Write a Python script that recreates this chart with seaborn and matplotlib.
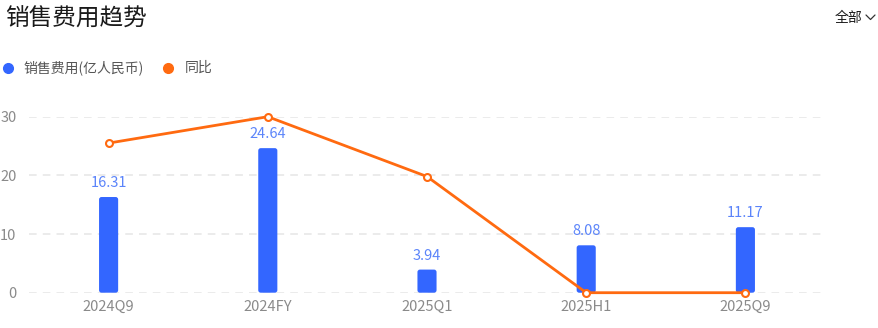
import matplotlib
matplotlib.use("Agg")
import matplotlib.pyplot as plt
from matplotlib.lines import Line2D
from matplotlib.patches import FancyBboxPatch
import seaborn as sns
import pandas as pd
import numpy as np

categories = ["2024Q9", "2024FY", "2025Q1", "2025H1", "2025Q9"]
sales_expense = [16.31, 24.64, 3.94, 8.08, 11.17]
yoy = [25.5, 30.0, 19.8, 0.0, 0.0]
y_ticks = [0, 10, 20, 30]
title = "销售费用趋势"
legend_labels = ["销售费用(亿人民币)", "同比"]

BLUE = "#3366FF"
LABEL_BLUE = "#5B84FA"
ORANGE = "#FF6A10"
GRAY = "#8A8A8A"

sns.set_theme(style="white")
plt.rcParams["font.family"] = ["Noto Sans CJK SC", "DejaVu Sans"]

W, H = 879, 328
fig = plt.figure(figsize=(W / 100, H / 100), dpi=100)
fig.patch.set_facecolor("white")

left, right, top, bottom = 29, 825, 116.7, 292.7
ax = fig.add_axes([left / W, 1 - bottom / H, (right - left) / W, (bottom - top) / H])

df = pd.DataFrame({"cat": categories, "val": sales_expense, "yoy": yoy})

sns.barplot(data=df, x="cat", y="val", color=BLUE, width=0.12, ax=ax,
            saturation=1, zorder=2)

# rounded corners for bars
xpx = (right - left) / 5.0
ypx = (bottom - top) / 30.0
r_px = 2.5
for p in list(ax.patches):
    x0, y0 = p.get_x(), p.get_y()
    w, h = p.get_width(), p.get_height()
    rs = r_px / xpx
    fb = FancyBboxPatch((x0, y0), w, h,
                        boxstyle=f"round,pad=0,rounding_size={rs}",
                        mutation_aspect=(r_px / ypx) / rs,
                        facecolor=BLUE, edgecolor="none", zorder=2)
    p.remove()
    ax.add_patch(fb)

for i, v in enumerate(sales_expense):
    ax.annotate(f"{v:.2f}", (i, v), xytext=(0, 5), textcoords="offset points",
                ha="center", va="bottom", color=LABEL_BLUE, fontsize=10.5,
                clip_on=False, zorder=5)

sns.lineplot(data=df, x="cat", y="yoy", ax=ax, color=ORANGE, linewidth=2.0,
             marker="o", markersize=5.0, markerfacecolor="white",
             markeredgecolor=ORANGE, markeredgewidth=1.5, zorder=4, sort=False)
for ln in ax.lines:
    ln.set_clip_on(False)

ax.set_xlim(-0.5, 4.5)
ax.set_ylim(0, 30)
ax.set_yticks(y_ticks)
ax.set_yticklabels([str(t) for t in y_ticks])
ax.set_xlabel("")
ax.set_ylabel("")
for s in ax.spines.values():
    s.set_visible(False)
ax.yaxis.grid(True, color="#E6E6E6", linestyle=(0, (5, 4)), linewidth=1.1, zorder=0)
ax.xaxis.grid(False)
ax.set_axisbelow(True)
ax.tick_params(axis="both", length=0, colors=GRAY, labelsize=10.5)
ax.tick_params(axis="y", pad=9)
ax.tick_params(axis="x", pad=5.5)

# title
fig.text(5 / W, 1 - 19 / H, title, fontsize=17, color="#1a1a1a", ha="left", va="center")

# dropdown
fig.text(862 / W, 1 - 18 / H, "全部", fontsize=10, color="#1a1a1a", ha="right", va="center")
fig.add_artist(Line2D([866 / W, 870.5 / W, 875 / W], [1 - 15 / H, 1 - 19.5 / H, 1 - 15 / H],
                      transform=fig.transFigure, color="#333333", linewidth=0.9))

# legend
ly = 1 - 68 / H
fig.add_artist(Line2D([8 / W], [ly], transform=fig.transFigure, marker="o",
                      markersize=7, color=BLUE, linestyle="none"))
fig.text(23 / W, ly, legend_labels[0], fontsize=10, color="#555555", ha="left", va="center")
fig.add_artist(Line2D([168 / W], [ly], transform=fig.transFigure, marker="o",
                      markersize=7, color=ORANGE, linestyle="none"))
fig.text(185 / W, ly, legend_labels[1], fontsize=10, color="#555555", ha="left", va="center")

fig.savefig("out.png", dpi=100, facecolor="white")
